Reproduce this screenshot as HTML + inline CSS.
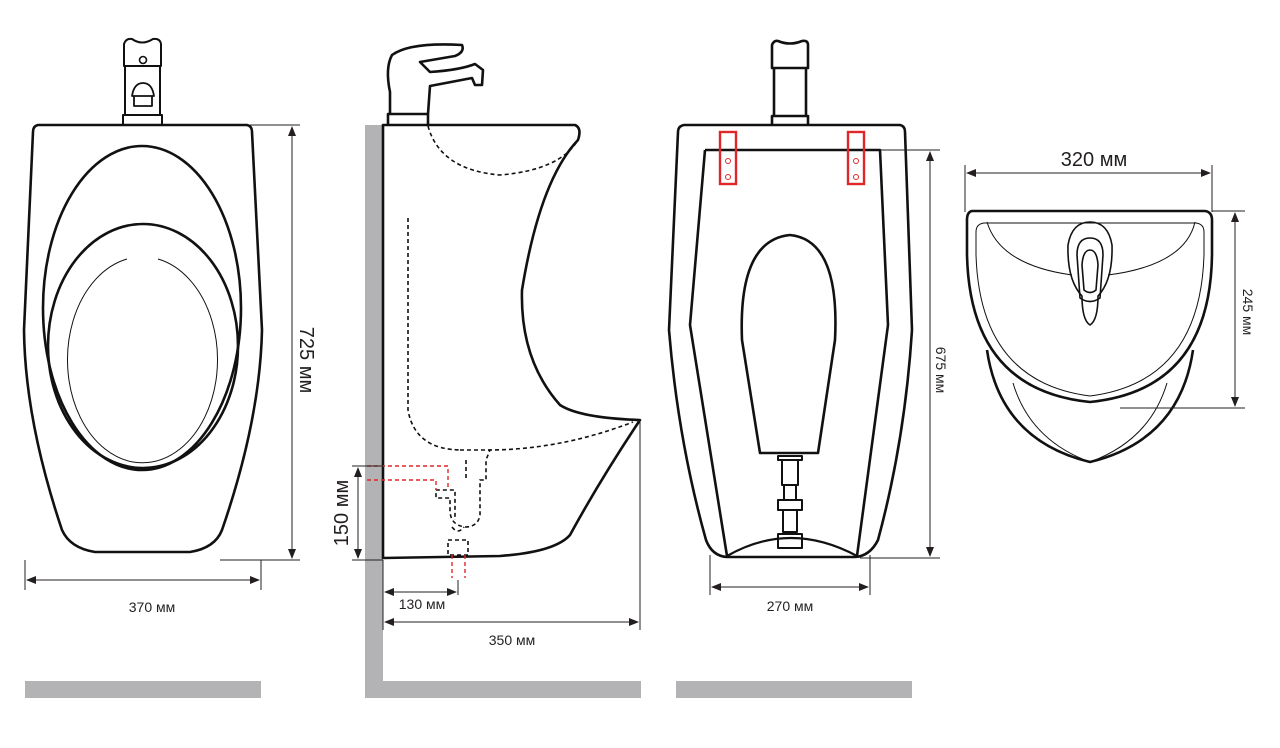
<!DOCTYPE html>
<html><head><meta charset="utf-8"><style>
html,body{margin:0;padding:0;background:#fff;width:1280px;height:748px;overflow:hidden}
svg{display:block}
text{font-family:"Liberation Sans",sans-serif;fill:#231f20}
</style></head><body>
<svg width="1280" height="748" viewBox="0 0 1280 748" xmlns="http://www.w3.org/2000/svg">
<defs>
<marker id="a" markerWidth="10" markerHeight="8" refX="9" refY="4" orient="auto-start-reverse"><path d="M0,0 L10,4 L0,8 Z" fill="#231f20"/></marker>
</defs>
<g fill="#b3b3b5">
<rect x="25" y="681" width="236" height="17"/>
<rect x="365" y="681" width="276" height="17"/>
<rect x="365" y="125" width="18" height="573"/>
<rect x="676" y="681" width="236" height="17"/>
</g>
<g fill="none" stroke="#111" stroke-width="2.6" stroke-linejoin="round">
<!-- view 1 -->
<path d="M38,125 L247,125 Q252,126 252,132 L262,330 Q260,420 222,530 Q215,548 190,552 L95,552 Q70,548 62,530 Q25,420 24,330 L33,132 Q33,126 38,125 Z"/>
<ellipse cx="142" cy="308" rx="99" ry="162"/>
<ellipse cx="143" cy="346" rx="95" ry="122"/>
<path d="M123,125 V115 H162 V125 M125,115 V66 H160 V115 M124,66 V44 Q126,38 132,39 Q142,46 153,39 Q160,38 161,44 V66 Z" stroke-width="2"/>
<circle cx="143" cy="60" r="3.5" stroke-width="1.6"/>
<path d="M132,96 Q134,83 143,83 Q152,83 154,96 Z M134,96 V106 H152 V96" stroke-width="1.8"/>
<!-- view 2 -->
<path d="M383,125 L575,125 Q582,128 578,140 Q540,180 522,290 Q520,360 560,405 Q580,418 640,420 Q600,480 570,535 Q555,552 500,556 L383,558 Z"/>
<path d="M388,126 V114 H428 V126 M390,114 V92 Q385,68 392,55 Q410,42 462,45 Q465,52 455,56 L420,62 L430,72 Q460,70 475,64 L483,70 L482,85 L475,85 L472,78 L430,86 L428,114"/>
<!-- view 3 -->
<path d="M684,125 L900,125 Q905,126 905,132 L912,330 Q905,440 878,540 Q870,556 855,557 L727,557 Q712,556 706,540 Q678,440 669,330 L678,132 Q678,126 684,125 Z"/>
<path d="M705,150 L880,150 L888,325 L857,556 M705,150 L690,325 L727,556"/>
<path d="M772,125 V116 H808 V125 M774,116 V68 H806 V116 M772,68 V45 Q774,40 778,41 Q790,46 802,41 Q808,40 808,45 V68 Z"/>
<path d="M760,453 L742,340 Q738,240 790,235 Q840,240 835,340 L818,453 Z"/>
<path d="M727,556 Q790,520 857,556" stroke-width="2.2"/>
<path d="M778,456 H802 V460 H778 Z M782,460 H798 V485 H782 Z M784,485 H796 V500 H784 Z M778,500 H802 V510 H778 Z M783,510 H797 V532 H783 Z M778,534 H802 V548 H778 Z" stroke-width="2"/>
<!-- view 4 -->
<path d="M972,211 L1205,211 Q1212,212 1212,220 L1212,255 Q1210,390 1090,402 Q970,390 967,255 L967,220 Q967,212 972,211 Z"/>
<path d="M987,350 Q1000,440 1090,462 Q1180,440 1193,350"/>
<path d="M1082,296 Q1067,280 1068,245 Q1072,222 1090,222 Q1108,222 1112,245 Q1113,280 1098,296 Q1098,320 1090,325 Q1082,320 1082,296 Z" stroke-width="1.6"/>
<path d="M1077,255 Q1077,238 1090,238 Q1103,238 1103,255 L1100,298 Q1090,305 1080,298 Z" stroke-width="1.6"/>
<path d="M1082,265 Q1083,250 1090,250 Q1097,250 1098,265 L1096,290 Q1090,295 1084,290 Z" stroke-width="1.6"/>
</g>
<g fill="none" stroke="#111" stroke-width="1">
<path d="M158,259 A75,103 0 1 1 127,259"/>
<path d="M976,232 Q976,224 984,223 H1196 Q1204,224 1204,232 V255 Q1200,382 1090,396 Q980,382 976,255 Z"/>
<path d="M987,222 Q1000,265 1072,275 M1108,275 Q1185,265 1195,222"/>
<path d="M1013,383 Q1030,440 1090,462 M1167,383 Q1150,440 1090,462"/>
</g>
<g fill="none" stroke="#111" stroke-width="1.6" stroke-dasharray="4,3">
<path d="M428,126 Q440,170 500,175 Q560,170 578,140"/>
<path d="M408,218 V410 Q415,450 462,450 M488,450 Q560,450 633,422"/>
<path d="M460,450 H490 L486,460 V480 H480 V515 Q478,527 465,527 Q450,525 450,510 V498 H436 V490 H455 V520 M466,460 V480"/>
<path d="M448,540 H468 V555 H448 Z M452,527 Q458,535 464,527"/>
</g>
<g fill="none" stroke="#e0262b" stroke-width="1.4" stroke-dasharray="4,3">
<path d="M367,466 H448 V490 M367,480 H436 V490 M452,555 V578 M465,555 V578"/>
</g>
<g fill="none" stroke="#e0262b" stroke-width="2.4">
<rect x="720" y="132" width="16" height="52"/><rect x="848" y="132" width="16" height="52"/>
</g>
<g fill="none" stroke="#e0262b" stroke-width="1">
<circle cx="728" cy="161" r="2.5"/><circle cx="728" cy="177" r="2.5"/>
<circle cx="856" cy="161" r="2.5"/><circle cx="856" cy="177" r="2.5"/>
</g>
<!-- dimensions -->
<g stroke="#231f20" stroke-width="1" fill="none">
<path d="M250,125 H300 M220,560 H300"/>
<path d="M292,127 V558" marker-start="url(#a)" marker-end="url(#a)"/>
<path d="M25,560 V590 M261,560 V590"/>
<path d="M27,580 H259" marker-start="url(#a)" marker-end="url(#a)"/>
<path d="M352,466 H383 M352,560 H383"/>
<path d="M358,468 V558" marker-start="url(#a)" marker-end="url(#a)"/>
<path d="M383,560 V630 M458,580 V595 M640,420 V630"/>
<path d="M385,592 H456" marker-start="url(#a)" marker-end="url(#a)"/>
<path d="M385,622 H638" marker-start="url(#a)" marker-end="url(#a)"/>
<path d="M880,150 H940 M860,558 H940"/>
<path d="M930,152 V556" marker-start="url(#a)" marker-end="url(#a)"/>
<path d="M710,555 V595 M870,555 V595"/>
<path d="M712,587 H868" marker-start="url(#a)" marker-end="url(#a)"/>
<path d="M965,165 V212 M1212,165 V212"/>
<path d="M967,173 H1210" marker-start="url(#a)" marker-end="url(#a)"/>
<path d="M1212,211 H1245 M1120,408 H1245"/>
<path d="M1235,213 V406" marker-start="url(#a)" marker-end="url(#a)"/>
</g>
<text x="152" y="612" font-size="14" text-anchor="middle">370 мм</text>
<text transform="translate(300,360) rotate(90)" font-size="20" text-anchor="middle">725 мм</text>
<text transform="translate(348,513) rotate(-90)" font-size="20" text-anchor="middle">150 мм</text>
<text x="422" y="609" font-size="14" text-anchor="middle">130 мм</text>
<text x="512" y="645" font-size="14" text-anchor="middle">350 мм</text>
<text x="790" y="611" font-size="14" text-anchor="middle">270 мм</text>
<text transform="translate(936,370) rotate(90)" font-size="14" text-anchor="middle">675 мм</text>
<text x="1094" y="166" font-size="20" text-anchor="middle">320 мм</text>
<text transform="translate(1243,312) rotate(90)" font-size="14" text-anchor="middle">245 мм</text>
</svg>
</body></html>
